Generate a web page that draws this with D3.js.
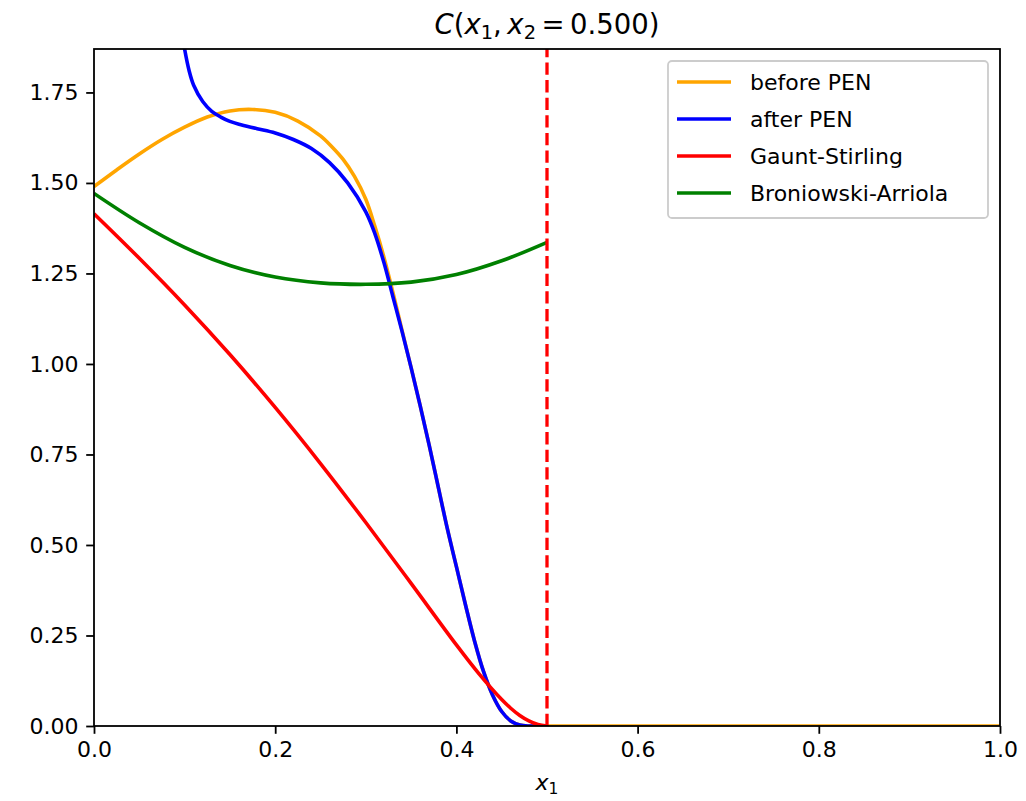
<!DOCTYPE html>
<html>
<head>
<meta charset="utf-8">
<script src="https://cdn.jsdelivr.net/npm/d3@7"></script>
<style>
  html, body { margin: 0; padding: 0; background: #fff; }
  svg { display: block; font-family: "DejaVu Sans", sans-serif; }
</style>
</head>
<body>
<div id="chart"></div>
<script>
// --- 1. Data ---
const seriesNames = ['before PEN', 'after PEN', 'Gaunt-Stirling', 'Broniowski-Arriola'];
const seriesColors = ['#ffa500', '#0000ff', '#ff0000', '#008000'];

const beforeX = [0, 0.025, 0.05, 0.075, 0.1, 0.125, 0.15, 0.175, 0.2, 0.225, 0.25, 0.2625, 0.275, 0.2875, 0.3,
                 0.31, 0.32, 0.33, 0.34, 0.35, 0.36, 0.37, 0.38, 0.39, 0.4, 0.41, 0.42, 0.43, 0.44,
                 0.45, 0.46, 0.47, 0.48, 0.5, 0.6, 0.8, 1.0];
const beforeY = [1.49, 1.536, 1.58, 1.62, 1.654, 1.682, 1.699, 1.703, 1.695, 1.671, 1.63, 1.60, 1.565, 1.518, 1.455,
                 1.38, 1.295, 1.197, 1.093, 0.99, 0.885, 0.775, 0.66, 0.545, 0.44, 0.335, 0.235, 0.15, 0.085,
                 0.04, 0.014, 0.003, 0, 0, 0, 0, 0];

const afterX = [0.095, 0.1, 0.105, 0.11, 0.12, 0.13, 0.14, 0.15, 0.16, 0.18, 0.2, 0.22, 0.24, 0.26, 0.28,
                0.3, 0.31, 0.32, 0.33, 0.34, 0.35, 0.36, 0.37, 0.38, 0.39, 0.4, 0.41, 0.42, 0.43, 0.44,
                0.45, 0.46, 0.47, 0.48, 0.5];
const afterY = [1.95, 1.87, 1.81, 1.77, 1.725, 1.698, 1.682, 1.67, 1.662, 1.65, 1.638, 1.62, 1.595, 1.556, 1.50,
                1.42, 1.36, 1.28, 1.185, 1.09, 0.99, 0.885, 0.775, 0.66, 0.545, 0.44, 0.335, 0.235, 0.15, 0.085,
                0.04, 0.014, 0.003, 0, 0];

const gauntX = [0, 0.05, 0.1, 0.15, 0.2, 0.25, 0.3, 0.35, 0.4, 0.425, 0.45, 0.46, 0.47, 0.48, 0.49, 0.5];
const gauntY = [1.415, 1.292, 1.163, 1.026, 0.88, 0.725, 0.562, 0.394, 0.224, 0.144, 0.073, 0.049, 0.029, 0.014, 0.004, 0];

const broX = [0, 0.05, 0.1, 0.15, 0.2, 0.25, 0.3, 0.35, 0.4, 0.45, 0.5];
const broY = [1.471, 1.39, 1.322, 1.272, 1.24, 1.224, 1.22, 1.226, 1.247, 1.285, 1.336];

const cutoffX = 0.5;

const xTicks = [0, 0.2, 0.4, 0.6, 0.8, 1.0];
const yTicks = [0, 0.25, 0.5, 0.75, 1.0, 1.25, 1.5, 1.75];

// --- 2. SVG setup ---
const width = 1026, height = 801;
const plot = { left: 94, right: 1000, top: 49, bottom: 726 };

const svg = d3.select('#chart').append('svg')
    .attr('width', width)
    .attr('height', height);

const x = d3.scaleLinear().domain([0, 1]).range([plot.left, plot.right]);
const y = d3.scaleLinear().domain([0, 1.87]).range([plot.bottom, plot.top]);

svg.append('clipPath').attr('id', 'clip')
  .append('rect')
    .attr('x', plot.left).attr('y', plot.top)
    .attr('width', plot.right - plot.left).attr('height', plot.bottom - plot.top);

// --- 3. Curves ---
const series = [
    { xs: beforeX, ys: beforeY },
    { xs: afterX, ys: afterY },
    { xs: gauntX, ys: gauntY },
    { xs: broX, ys: broY }
];

const line = d3.line()
    .x(d => x(d[0]))
    .y(d => y(d[1]))
    .curve(d3.curveCatmullRom.alpha(0.5));

const lines = svg.append('g').attr('clip-path', 'url(#clip)');

series.forEach((s, i) => {
    lines.append('path')
        .datum(d3.zip(s.xs, s.ys))
        .attr('d', line)
        .attr('fill', 'none')
        .attr('stroke', seriesColors[i])
        .attr('stroke-width', 3.6)
        .attr('stroke-linejoin', 'round');
});

// dashed cut-off line
lines.append('line')
    .attr('x1', x(cutoffX)).attr('x2', x(cutoffX))
    .attr('y1', plot.bottom).attr('y2', plot.top)
    .attr('stroke', '#ff0000')
    .attr('stroke-width', 3.3)
    .attr('stroke-dasharray', '12.3,5.3');

// --- 4. Axes ---
const xAxis = svg.append('g')
    .attr('transform', `translate(0,${plot.bottom})`)
    .call(d3.axisBottom(x).tickValues(xTicks).tickFormat(d3.format('.1f')).tickSizeOuter(0).tickSize(7.8).tickPadding(7.8));

const yAxis = svg.append('g')
    .attr('transform', `translate(${plot.left},0)`)
    .call(d3.axisLeft(y).tickValues(yTicks).tickFormat(d3.format('.2f')).tickSizeOuter(0).tickSize(7.8).tickPadding(7.8));

[xAxis, yAxis].forEach(g => {
    g.select('.domain').remove();
    g.selectAll('.tick line').attr('stroke', '#000').attr('stroke-width', 1.8);
    g.selectAll('.tick text')
        .attr('fill', '#000')
        .style('font-family', '"DejaVu Sans", sans-serif')
        .style('font-size', '22px');
});

// frame (spines)
svg.append('rect')
    .attr('x', plot.left).attr('y', plot.top)
    .attr('width', plot.right - plot.left).attr('height', plot.bottom - plot.top)
    .attr('fill', 'none')
    .attr('stroke', '#000')
    .attr('stroke-width', 1.8);

// --- 5. Title and axis label ---
const title = svg.append('text')
    .attr('x', (plot.left + plot.right) / 2)
    .attr('y', 34)
    .attr('text-anchor', 'middle')
    .style('font-size', '27.5px')
    .attr('fill', '#000');
title.append('tspan').attr('font-style', 'italic').text('C');
title.append('tspan').text('(');
title.append('tspan').attr('font-style', 'italic').text('x');
title.append('tspan').attr('font-size', '19.5px').attr('dy', 5).text('1');
title.append('tspan').attr('dy', -5).text(',\u2009');
title.append('tspan').attr('font-style', 'italic').text('x');
title.append('tspan').attr('font-size', '19.5px').attr('dy', 5).text('2');
title.append('tspan').attr('dy', -5).text('\u2009=\u20090.500)');

const xLabel = svg.append('text')
    .attr('x', (plot.left + plot.right) / 2)
    .attr('y', 790)
    .attr('text-anchor', 'middle')
    .style('font-size', '22px')
    .attr('fill', '#000');
xLabel.append('tspan').attr('font-style', 'italic').text('x');
xLabel.append('tspan').attr('font-size', '15.5px').attr('dy', 4).text('1');

// --- 6. Legend ---
const legend = svg.append('g').attr('transform', 'translate(668,61)');
legend.append('rect')
    .attr('width', 320).attr('height', 157)
    .attr('rx', 4)
    .attr('fill', 'rgba(255,255,255,0.8)')
    .attr('stroke', '#cccccc')
    .attr('stroke-width', 1.8);

seriesNames.forEach((name, i) => {
    const row = legend.append('g').attr('transform', `translate(0,${21 + i * 37})`);
    row.append('line')
        .attr('x1', 9).attr('x2', 63)
        .attr('stroke', seriesColors[i])
        .attr('stroke-width', 3.6);
    row.append('text')
        .attr('x', 82).attr('y', 0)
        .attr('dy', '0.35em')
        .style('font-size', '22px')
        .attr('fill', '#000')
        .text(name);
});
</script>
</body>
</html>
